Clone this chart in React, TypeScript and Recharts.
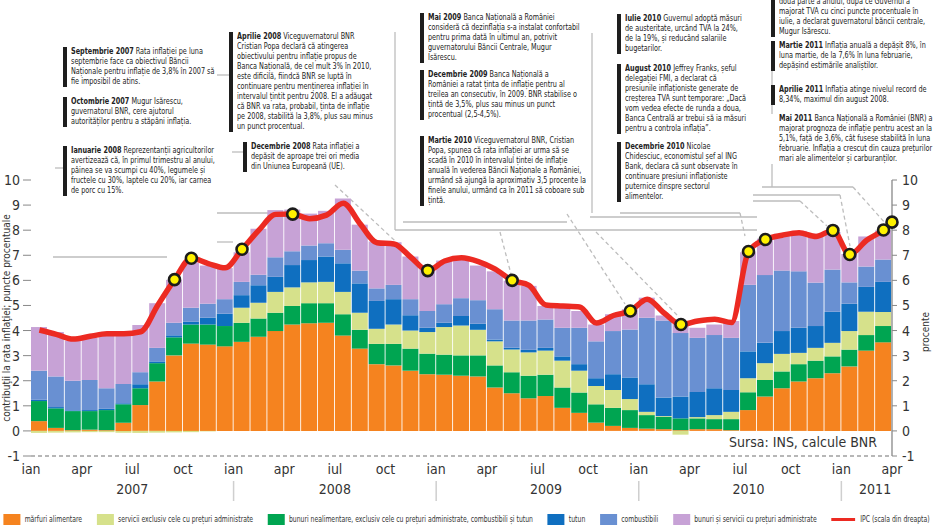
import React from 'react';
import { ComposedChart, Bar, Line, XAxis, YAxis, Legend } from 'recharts';

// contributii la rata anuala a inflatiei, ian 2007 - mar 2011 (puncte procentuale)
const alimentare = [
  0.39, 0.12, 0.03, 0.05, 0.03, 0.33, 1.03, 1.97, 3.01, 3.48, 3.44, 3.37,
  3.55, 3.75, 3.98, 4.24, 4.29, 4.31, 3.8, 3.28, 2.66, 2.61, 2.4, 2.26,
  2.24, 2.2, 2.17, 1.73, 1.5, 1.3, 1.39, 0.92, 0.72, 0.33, 0.2, 0.12,
  0.09, 0.07, 0.03, 0.07, 0.07, 0.03, 0.83, 1.37, 1.7, 1.97, 2.1, 2.3,
  2.57, 3.2, 3.53,
];
const nealimentare = [
  0.8, 0.78, 0.76, 0.74, 0.8, 0.73, 0.67, 0.73, 0.72, 0.76, 0.8, 0.81,
  0.76, 0.73, 0.73, 0.74, 0.8, 0.78, 0.85, 0.75, 0.81, 0.86, 0.88, 0.82,
  0.8, 0.81, 0.84, 0.88, 0.84, 0.9, 0.85, 0.81, 0.81, 0.73, 0.72, 0.71,
  0.54, 0.49, 0.47, 0.43, 0.4, 0.44, 0.71, 0.66, 0.67, 0.69, 0.7, 0.67,
  0.67, 0.62, 0.65,
];
const servicii = [
  -0.08, -0.07, -0.06, -0.05, -0.05, -0.07, -0.08, -0.07, -0.06, -0.05, -0.02, 0.0,
  0.6, 0.63, 0.83, 0.74, 0.83, 0.85, 0.89, 0.68, 0.6, 0.77, 0.72, 0.86,
  1.1, 1.19, 1.02, 0.96, 0.9, 0.93, 0.96, 1.07, 0.87, 0.73, 0.71, 0.44,
  0.13, 0.03, -0.15, 0.05, 0.16, 0.29, 0.56, 0.67, 0.7, 0.45, 0.51, 0.54,
  0.74, 0.93, 0.56,
];
const tutun = [
  0.05, 0.05, 0.03, 0.04, 0.05, 0.04, 0.16, 0.07, 0.08, 0.11, 0.27, 0.49,
  0.5, 0.7, 0.6, 0.89, 0.89, 1.01, 1.14, 1.17, 1.11, 1.01, 0.61, 0.17,
  0.17, 0.38, 0.24, 0.07, 0.07, 0.1, 0.11, 0.17, 0.26, 0.31, 0.63, 0.86,
  1.1, 0.74, 0.87, 1.0, 1.07, 0.87, 1.07, 0.81, 0.91, 1.0, 0.87, 1.24,
  1.09, 0.99, 1.2,
];
const combustibili = [
  1.16, 1.22, 1.18, 1.2, 0.82, 0.77, 0.48, 0.54, 0.5, 0.56, 0.56, 0.58,
  0.53, 0.41, 0.78, 0.55, 0.58, 0.53, 0.54, 0.51, 0.5, 0.57, 0.64, 0.67,
  0.74, 0.71, 0.94, 1.21, 1.09, 1.17, 1.13, 1.14, 1.45, 1.47, 1.72, 1.91,
  2.65, 3.07, 2.53, 2.16, 2.12, 2.08, 2.65, 2.7, 2.41, 2.25, 1.73, 1.68,
  0.85, 0.81, 0.89,
];
const administrate = [
  1.74, 1.77, 1.6, 1.68, 2.14, 2.03, 1.88, 1.78, 1.71, 1.79, 1.52, 1.24,
  1.18, 1.84, 1.88, 1.66, 1.27, 1.29, 2.04, 1.83, 1.87, 1.7, 1.7, 1.74,
  1.74, 1.52, 1.38, 1.51, 1.58, 1.38, 0.54, 0.87, 0.67, 0.67, 0.67, 0.81,
  0.8, 0.2, 0.37, 0.4, 0.42, 0.67, 1.3, 1.45, 1.47, 1.61, 1.95, 1.5,
  1.13, 1.2, 1.16,
];
// IPC, rata anuala (%), ian 2007 - apr 2011
const ipc = [
  4.02, 3.85, 3.66, 3.77, 3.87, 3.87, 3.95, 5.0, 6.03, 6.88, 6.67, 6.5,
  7.24, 8.0, 8.63, 8.64, 8.46, 8.6, 9.07, 8.25, 7.5, 7.45, 6.92, 6.39,
  6.77, 6.9, 6.75, 6.45, 6.0, 5.8, 5.02, 4.98, 4.94, 4.3, 4.6, 4.78,
  5.25, 4.7, 4.24, 4.38, 4.45, 4.32, 7.15, 7.63, 7.8, 7.9, 7.75, 7.99,
  7.03, 7.6, 8.01, 8.32,
];
// lunile cu eveniment semnalat (index in ipc)
const markedMonths = [8, 9, 12, 15, 23, 28, 35, 38, 42, 43, 47, 48, 50, 51];

const monthTicks = [0, 3, 6, 9, 12, 15, 18, 21, 24, 27, 30, 33, 36, 39, 42, 45, 48, 51];
const monthTickLabels = ['ian', 'apr', 'iul', 'oct'];
const years = ['2007', '2008', '2009', '2010', '2011'];
const yearLabelPos = [6, 18, 30.5, 42.5, 50];
const yearBreaks = [12, 24, 36, 48];
const yTicks = [-1, 0, 1, 2, 3, 4, 5, 6, 7, 8, 9, 10];

const series = [
  { key: 'alimentare', name: 'mărfuri alimentare', color: '#f5831f', values: alimentare },
  { key: 'nealimentare', name: 'bunuri nealimentare, exclusiv cele cu prețuri administrate, combustibili și tutun', color: '#00a551', values: nealimentare },
  { key: 'servicii', name: 'servicii exclusiv cele cu prețuri administrate', color: '#d6e18b', values: servicii },
  { key: 'tutun', name: 'tutun', color: '#0f6fc0', values: tutun },
  { key: 'combustibili', name: 'combustibili', color: '#6990d2', values: combustibili },
  { key: 'administrate', name: 'bunuri și servicii cu prețuri administrate', color: '#c7a2d6', values: administrate },
];
const legendOrder = ['alimentare', 'servicii', 'nealimentare', 'tutun', 'combustibili', 'administrate', 'ipc'];

// bare centrate pe luna
const barData = alimentare.map((_, i) => {
  const row: any = { x: i + 0.5 };
  series.forEach((s) => { row[s.key] = s.values[i]; });
  return row;
});
// ultima citire IPC (apr 2011) nu are bare si sta la capatul axei
const ipcData = ipc.map((v, i) => ({ x: i < alimentare.length ? i + 0.5 : i, ipc: v }));

const notes = [
  { x: 63, y: 47, w: 144, head: 'Septembrie 2007', text: 'Rata inflației pe luna septembrie face ca obiectivul Băncii Naționale pentru inflație de 3,8% în 2007 să fie imposibil de atins.' },
  { x: 63, y: 97, w: 138, head: 'Octombrie 2007', text: 'Mugur Isărescu, guvernatorul BNR, cere ajutorul autorităților pentru a stăpâni inflația.' },
  { x: 63, y: 146, w: 144, head: 'Ianuarie 2008', text: 'Reprezentanții agricultorilor avertizează că, în primul trimestru al anului, pâinea se va scumpi cu 40%, legumele și fructele cu 30%, laptele cu 20%, iar carnea de porc cu 15%.' },
  { x: 229, y: 32, w: 140, head: 'Aprilie 2008', text: 'Viceguvernatorul BNR Cristian Popa declară că atingerea obiectivului pentru inflație propus de Banca Națională, de cel mult 3% în 2010, este dificilă, fiindcă BNR se luptă în continuare pentru menținerea inflației în intervalul țintit pentru 2008. El a adăugat că BNR va rata, probabil, ținta de inflație pe 2008, stabilită la 3,8%, plus sau minus un punct procentual.' },
  { x: 243, y: 142, w: 114, head: 'Decembrie 2008', text: 'Rata inflației a depășit de aproape trei ori media din Uniunea Europeană (UE).' },
  { x: 420, y: 13, w: 152, head: 'Mai 2009', text: 'Banca Națională a României consideră că dezinflația s-a instalat confortabil pentru prima dată în ultimul an, potrivit guvernatorului Băncii Centrale, Mugur Isărescu.' },
  { x: 420, y: 70, w: 150, head: 'Decembrie 2009', text: 'Banca Națională a României a ratat ținta de inflație pentru al treilea an consecutiv, în 2009. BNR stabilise o țintă de 3,5%, plus sau minus un punct procentual (2,5-4,5%).' },
  { x: 420, y: 136, w: 158, head: 'Martie 2010', text: 'Viceguvernatorul BNR, Cristian Popa, spunea că rata inflației ar urma să se scadă în 2010 în intervalul țintei de inflație anuală în vederea Băncii Naționale a României, urmând să ajungă la aproximativ 3,5 procente la finele anului, urmând ca în 2011 să coboare sub țintă.' },
  { x: 617, y: 14, w: 120, head: 'Iulie 2010', text: 'Guvernul adoptă măsuri de austeritate, urcând TVA la 24%, de la 19%, și reducând salariile bugetarilor.' },
  { x: 617, y: 64, w: 125, head: 'August 2010', text: 'Jeffrey Franks, șeful delegației FMI, a declarat că presiunile inflaționiste generate de creșterea TVA sunt temporare: „Dacă vom vedea efecte de runda a doua, Banca Centrală ar trebui să ia măsuri pentru a controla inflația”.' },
  { x: 617, y: 142, w: 122, head: 'Decembrie 2010', text: 'Nicolae Chidesciuc, economistul șef al ING Bank, declara că sunt observate în continuare presiuni inflaționiste puternice dinspre sectorul alimentelor.' },
  { x: 771, y: -13, w: 156, head: 'Ianuarie 2011', text: 'Inflația va coborî abrupt în a doua parte a anului, după ce Guvernul a majorat TVA cu cinci puncte procentuale în iulie, a declarat guvernatorul băncii centrale, Mugur Isărescu.' },
  { x: 771, y: 41, w: 156, head: 'Martie 2011', text: 'Inflația anuală a depășit 8%, în luna martie, de la 7,6% în luna februarie, depășind estimările analiștilor.' },
  { x: 771, y: 85, w: 156, head: 'Aprilie 2011', text: 'Inflația atinge nivelul record de 8,34%, maximul din august 2008.' },
  { x: 771, y: 114, w: 158, head: 'Mai 2011', text: 'Banca Națională a României (BNR) a majorat prognoza de inflație pentru acest an la 5,1%, față de 3,6%, cât fusese stabilită în luna februarie. Inflația a crescut din cauza prețurilor mari ale alimentelor și carburanților.', noBar: true },
];

// linii de legatura intre casete si grafic
const leaders: [number, number, number, number, boolean][] = [
  [55, 168, 63, 168, false],
  [53, 257, 167, 257, false],
  [217, 75, 229, 75, false],
  [217, 213, 283, 213, false],
  [217, 242, 233, 242, false],
  [232, 152, 243, 152, false],
  [395, 32, 395, 230, false],
  [395, 230, 590, 230, false],
  [403, 222, 567, 222, false],
  [592, 33, 592, 213, false],
  [590, 217, 757, 217, false],
  [590, 230, 757, 230, false],
  [772, 67, 772, 187, false],
  [335, 185, 420, 264, true],
  [500, 232, 511, 274, true],
  [567, 214, 625, 304, true],
  [596, 232, 678, 316, true],
  [620, 213, 740, 213, false],
  [740, 213, 745, 236, true],
  [762, 187, 853, 187, false],
  [853, 187, 886, 224, true],
  [753, 195, 840, 195, false],
  [840, 195, 850, 246, true],
  [753, 201, 800, 201, false],
  [800, 201, 827, 226, true],
];

const FONT = "'DejaVu Sans Condensed', 'Liberation Sans Narrow', sans-serif";
const NOTE_SQUEEZE = 0.9;
const LEGEND_SQUEEZE = 0.85;

const IpcDot = (props: any) => {
  const { cx, cy, index } = props;
  if (!markedMonths.includes(index)) return <g key={`d${index}`} />;
  return <circle key={`d${index}`} cx={cx} cy={cy} r={5.5} fill="#fff200" stroke="#1c1c1c" strokeWidth={2.6} />;
};

const YearTick = (props: any) => {
  const { x, y, payload } = props;
  if (yearBreaks.includes(payload.value)) {
    return <line x1={x} x2={x} y1={y + 2} y2={y + 22} stroke="#cfcfcf" strokeWidth={1.5} />;
  }
  const i = yearLabelPos.indexOf(payload.value);
  return (
    <text x={x} y={y + 15} textAnchor="middle" fontSize={14} fontFamily={FONT} fill="#333">
      {years[i]}
    </text>
  );
};

const LeftLabel = (props: any) => {
  const { x, y, height } = props.viewBox;
  return (
    <text transform={`translate(${x + 10}, ${y + height / 2}) rotate(-90)`} textAnchor="middle" fontSize={10} fontFamily={FONT} fill="#333">
      contribuţii la rata inflaţiei; puncte procentuale
    </text>
  );
};

const RightLabel = (props: any) => {
  const { x, y, height } = props.viewBox;
  return (
    <text transform={`translate(${x + 37}, ${y + height / 2 + 14}) rotate(-90)`} textAnchor="middle" fontSize={10} fontFamily={FONT} fill="#333">
      procente
    </text>
  );
};

const LegendRow = (props: any) => {
  const payload = props.payload || [];
  const items = legendOrder.map((k) => payload.find((p: any) => p.dataKey === k)).filter(Boolean);
  return (
    <div style={{ width: 933, height: 24, overflow: 'hidden' }}>
      <div
        style={{
          width: 933 / LEGEND_SQUEEZE,
          transform: `scaleX(${LEGEND_SQUEEZE})`,
          transformOrigin: 'left top',
          display: 'flex',
          alignItems: 'center',
          justifyContent: 'space-between',
          boxSizing: 'border-box',
          padding: '0 4px',
          height: 24,
          fontFamily: FONT,
          fontSize: 8,
          color: '#333',
        }}
      >
        {items.map((p: any) => (
          <div key={p.dataKey} style={{ display: 'flex', alignItems: 'center', whiteSpace: 'nowrap' }}>
            {p.dataKey === 'ipc' ? (
              <span style={{ display: 'inline-block', width: 28, height: 3, background: p.color, marginRight: 6 }} />
            ) : (
              <span style={{ display: 'inline-block', width: 20, height: 11, background: p.color, marginRight: 5 }} />
            )}
            {p.value}
          </div>
        ))}
      </div>
    </div>
  );
};

export default function App() {
  return (
    <div style={{ position: 'relative', width: 933, height: 531, background: '#fff', overflow: 'hidden' }}>
      <style>{'body{margin:0}'}</style>
      <svg width={933} height={531} style={{ position: 'absolute', left: 0, top: 0 }}>
        {leaders.map(([x1, y1, x2, y2, dashed], i) => (
          <line key={i} x1={x1} y1={y1} x2={x2} y2={y2} stroke="#bdbdbd" strokeWidth={1.3} strokeDasharray={dashed ? '4 3' : undefined} />
        ))}
      </svg>
      <ComposedChart width={933} height={531} data={barData} stackOffset="sign" margin={{ top: 180, right: 0, bottom: 0, left: 0 }}>
        <XAxis
          xAxisId="m"
          dataKey="x"
          type="number"
          domain={[0, 51]}
          ticks={monthTicks}
          interval={0}
          tickFormatter={(v: number) => monthTickLabels[(v / 3) % 4]}
          tickLine={false}
          axisLine={{ stroke: '#a0a0a0', strokeDasharray: '4 3', strokeWidth: 1.3 }}
          tick={{ fill: '#333', fontSize: 14, fontFamily: FONT }}
          height={23}
        />
        <XAxis
          xAxisId="yr"
          dataKey="x"
          type="number"
          domain={[0, 51]}
          ticks={[...yearLabelPos, ...yearBreaks]}
          interval={0}
          tick={<YearTick />}
          tickLine={false}
          axisLine={false}
          tickSize={0}
          tickMargin={0}
          height={28}
        />
        <YAxis
          yAxisId="left"
          domain={[-1, 10]}
          ticks={yTicks}
          interval={0}
          width={31}
          axisLine={false}
          tickLine={{ stroke: '#888' }}
          tickSize={8}
          tickMargin={3}
          tick={{ fill: '#333', fontSize: 14, fontFamily: FONT }}
          label={LeftLabel}
        />
        <YAxis
          yAxisId="right"
          orientation="right"
          domain={[-1, 10]}
          ticks={yTicks}
          interval={0}
          width={41}
          axisLine={{ stroke: '#888', strokeWidth: 1.3 }}
          tickLine={{ stroke: '#888' }}
          tickSize={5}
          tickMargin={5}
          tick={{ fill: '#333', fontSize: 14, fontFamily: FONT }}
          label={RightLabel}
        />
        <Legend verticalAlign="bottom" content={<LegendRow />} wrapperStyle={{ left: 0, bottom: 0, width: 933, height: 24 }} />
        {series.map((s) => (
          <Bar
            key={s.key}
            xAxisId="m"
            yAxisId="left"
            dataKey={s.key}
            name={s.name}
            stackId="contrib"
            fill={s.color}
            barSize={16}
            isAnimationActive={false}
          />
        ))}
        <Line
          data={ipcData}
          xAxisId="yr"
          yAxisId="right"
          dataKey="ipc"
          name="IPC (scala din dreapta)"
          type="monotone"
          stroke="#ec2a22"
          strokeWidth={5.5}
          dot={IpcDot}
          activeDot={false}
          legendType="line"
          isAnimationActive={false}
        />
      </ComposedChart>
      <div style={{ position: 'absolute', right: 56, top: 434, fontFamily: FONT, fontSize: 14, color: '#333' }}>
        Sursa: INS, calcule BNR
      </div>
      {notes.map((n, i) => (
        <div
          key={i}
          style={{
            position: 'absolute',
            left: n.x,
            top: n.y,
            width: n.w,
            borderLeft: n.noBar ? 'none' : '4px solid #1e1e1e',
            paddingLeft: n.noBar ? 8 : 4,
            background: '#fff',
            overflow: 'hidden',
          }}
        >
          <div
            style={{
              width: n.w / NOTE_SQUEEZE,
              transform: `scaleX(${NOTE_SQUEEZE})`,
              transformOrigin: 'left top',
              fontFamily: FONT,
              fontSize: 8,
              lineHeight: '10px',
              color: '#222',
            }}
          >
            <b>{n.head}</b> {n.text}
          </div>
        </div>
      ))}
    </div>
  );
}
